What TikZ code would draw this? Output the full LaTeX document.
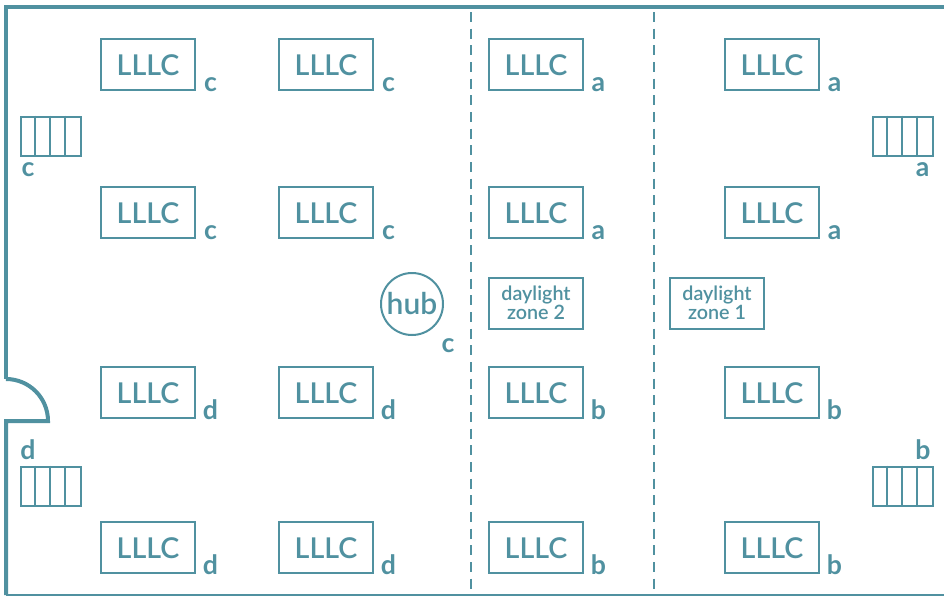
\documentclass[tikz,border=0pt]{standalone}
\usepackage{fontspec}
\setmainfont{Lato}
\newfontfamily\labelfont{Lato Semibold}
\definecolor{teal}{RGB}{80,145,160}
\begin{document}
\begin{tikzpicture}[x=0.75pt,y=-0.75pt,
  wall/.style={draw=teal,line width=3pt,line cap=butt,line join=miter},
  thin wall/.style={draw=teal,line width=1.4pt},
  zone/.style={draw=teal,line width=1.5pt,dash pattern=on 7.5pt off 5pt},
  fixture/.style={draw=teal,line width=1.5pt,fill=white,minimum width=70.5pt,minimum height=38.25pt,inner sep=0pt,text=teal,font=\labelfont\fontsize{21.5}{21.5}\selectfont},
  lamp/.style={fixture,text height=17.2pt,text depth=0pt},
  dzone/.style={fixture,font=\labelfont\fontsize{14.8}{14.5}\selectfont,align=center},
  tag/.style={text=teal,inner sep=0pt,font=\fontsize{20}{20}\selectfont\bfseries,anchor=base},
  heater/.style={draw=teal,line width=1.6pt},
]
\useasboundingbox (0,0) rectangle (944,596);
% walls
\coordinate (tl) at (4,7); \coordinate (tr) at (944,7);
\coordinate (wl) at (6,7);
\coordinate (dtop) at (6,379); \coordinate (dhinge) at (6,421); \coordinate (dtip) at (48,421);
\coordinate (bl) at (6,595); \coordinate (br) at (944,595);
\draw[wall,line width=3.4pt] (tl) -- (tr);
\draw[wall] (wl) -- (dtop);
\draw[wall] (dtop) arc[start angle=-90,end angle=0,radius=42] -- (dhinge) -- (bl);
\draw[thin wall] (bl) -- (br);
% zone lines
\coordinate (z2a) at (471,12); \coordinate (z2b) at (471,596);
\coordinate (z1a) at (654,12); \coordinate (z1b) at (654,596);
\draw[zone] (z2a) -- (z2b);
\draw[zone] (z1a) -- (z1b);
% fixtures
\foreach \n/\x/\y/\t in {
 A/148/64.5/c,B/326/64.5/c,C/536/64.5/a,D/772/64.5/a,
 E/148/212.5/c,F/326/212.5/c,G/536/212.5/a,H/772/212.5/a,
 I/148/392.5/d,J/326/392.5/d,K/536/392.5/b,L/772/392.5/b,
 M/148/547.5/d,N/326/547.5/d,O/536/547.5/b,P/772/547.5/b}{
  \node[lamp] (fix\n) at (\x,\y) {LLLC};
  \node[tag] (tag\n) at (\x+62.5,\y+26.5) {\t};
}
% heaters
\foreach \n/\x/\y in {hc/19.6/115.6,ha/871.6/115.6,hd/19.6/465.6,hb/871.6/465.6}{
  \node[heater,minimum width=45pt,minimum height=29.25pt,inner sep=0pt,anchor=north west] (\n) at (\x,\y) {};
  \draw[heater] (\x+15,\y) -- (\x+15,\y+39) (\x+30,\y) -- (\x+30,\y+39) (\x+45,\y) -- (\x+45,\y+39);
}
\node[tag] (tc) at (28,176) {c};
\node[tag] (ta) at (922.5,176) {a};
\node[tag] (td) at (28,459) {d};
\node[tag] (tb) at (923,459) {b};
% hub
\node[circle,draw=teal,line width=1.5pt,minimum size=46.5pt,inner sep=0pt,text=teal,font=\labelfont\fontsize{22.5}{22.5}\selectfont] (hub) at (412,304) {hub};
\node[tag] (tagh) at (448,352) {c};
% daylight
\node[dzone] (dz2) at (536,303) {daylight\\zone 2};
\node[dzone] (dz1) at (717,303) {daylight\\zone 1};
\end{tikzpicture}
\end{document}
